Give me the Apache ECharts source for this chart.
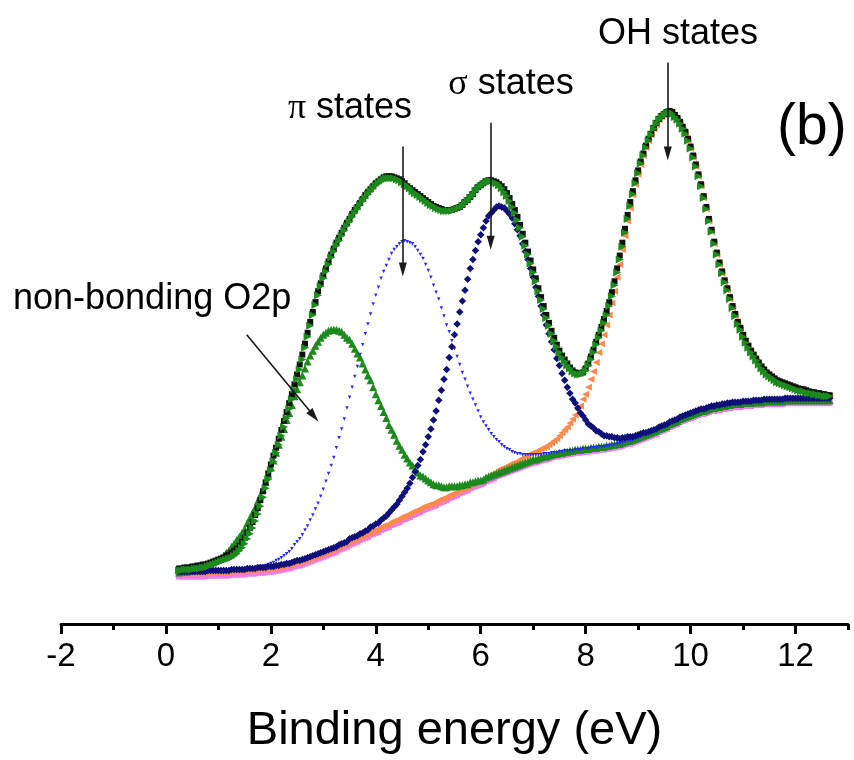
<!DOCTYPE html>
<html>
<head>
<meta charset="utf-8">
<script src="https://cdn.jsdelivr.net/npm/echarts@6/dist/echarts.min.js"></script>
<style>
  html, body { margin: 0; padding: 0; background: #ffffff; }
  #chart { width: 854px; height: 760px; }
</style>
</head>
<body>
<div id="chart"></div>
<script>
// Valence-band spectrum, sampled every 0.05 eV from 0.25 eV to 12.65 eV (249 points).
// Each row below holds 1 eV of data (20 samples).
const E_START = 0.25;
const E_STEP = 0.05;

// Measured spectrum (counts, arbitrary units)
const measured = [
  56,56,57,57,57,58,58,59,59,60,60,61,62,63,64,65,66,67,69,70,
  72,74,76,79,83,87,92,97,103,110,117,125,134,143,152,161,170,178,187,196,
  205,214,223,232,242,252,262,272,283,294,305,315,325,336,344,352,359,366,373,379,
  385,390,395,400,405,409,414,418,421,425,429,433,436,439,442,445,447,449,451,452,
  452,452,451,450,449,447,445,442,440,438,436,434,432,430,428,426,424,422,421,420,
  419,418,418,418,418,419,420,421,423,426,428,431,434,438,441,443,445,447,448,448,
  447,446,444,442,439,435,430,424,418,411,403,394,385,376,367,358,349,339,330,321,
  312,304,296,289,282,276,271,267,263,259,256,254,253,253,254,258,263,270,277,285,
  292,300,308,316,325,335,346,359,372,385,399,413,426,437,448,458,467,475,483,490,
  495,501,506,510,513,515,517,518,517,514,511,507,502,497,490,482,473,464,454,444,
  432,421,409,398,386,375,365,356,347,339,330,321,313,305,299,292,286,281,276,272,
  268,264,260,257,254,252,250,248,246,245,244,243,242,241,240,239,238,237,237,236,
  235,234,234,233,233,232,232,231,231
];

// Fitted envelope
const envelope = [
  54,54,55,55,55,55,56,56,56,57,57,58,59,60,61,62,63,64,65,66,
  67,69,71,74,77,81,86,91,97,104,111,119,128,137,146,155,164,173,181,190,
  199,208,217,227,237,247,257,267,279,290,301,312,322,332,341,349,356,363,370,376,
  382,387,392,397,402,406,411,415,419,423,427,430,434,437,440,443,445,447,449,450,
  450,450,450,449,448,446,444,442,440,437,435,433,431,429,427,425,423,422,420,419,
  418,417,417,417,417,418,419,420,422,425,427,430,433,437,440,442,444,446,447,447,
  446,445,443,440,436,432,427,421,415,408,400,391,382,373,364,355,346,336,327,318,
  309,301,293,286,280,274,269,265,261,258,255,253,252,252,253,256,261,267,274,282,
  289,296,304,312,321,331,342,355,368,381,395,409,422,434,445,455,465,473,481,488,
  494,500,505,509,512,514,516,517,515,512,509,505,500,495,488,480,471,462,452,442,
  430,419,407,396,384,373,363,354,345,337,328,319,311,303,297,290,284,279,274,270,
  266,262,258,255,252,250,248,246,244,243,242,241,240,239,238,237,236,235,235,234,
  233,233,232,232,231,231,230,230,230
];

// Component: non-bonding O2p (on background)
const nonBondingO2p = [
  52,53,53,53,54,54,55,55,56,57,58,60,61,62,64,65,67,69,72,74,
  78,81,85,88,92,96,102,107,112,117,124,130,136,143,151,158,165,173,181,189,
  197,206,213,221,230,237,244,251,258,265,271,276,281,285,289,292,294,296,297,297,
  297,296,295,292,289,287,283,278,273,269,263,257,251,246,239,232,226,220,214,208,
  201,196,191,185,180,176,171,167,163,160,156,153,150,149,147,145,143,141,140,140,
  139,138,138,139,139,139,139,140,140,141,141,143,143,144,145,145,146,148,149,150,
  151,152,153,154,155,156,157,158,159,160,161,162,163,164,165,166,166,167,168,169,
  169,170,171,172,172,173,173,174,174,175,175,176,176,176,177,177,177,178,178,178,
  179,179,179,180,180,181,181,182,182,183,184,185,185,186,187,188,189,190,191,192,
  193,194,195,197,198,199,200,202,203,204,205,207,208,209,210,211,212,213,214,215,
  215,216,217,218,218,219,219,220,220,221,221,222,222,222,222,223,223,223,223,224,
  224,224,224,225,225,225,225,225,225,225,225,226,226,226,226,226,226,226,226,226,
  226,226,226,226,226,226,226,226,226
];

// Component: pi states (on background)
const piStates = [
  51,51,51,51,51,51,51,51,51,51,51,52,52,52,52,52,52,52,52,52,
  53,53,53,53,54,54,55,55,56,56,57,58,58,59,60,61,62,64,65,67,
  69,71,73,76,80,83,86,90,95,99,105,110,116,122,129,136,144,152,160,168,
  178,188,197,207,218,229,239,250,260,272,282,293,303,313,323,332,340,349,356,362,
  368,374,378,381,384,386,387,386,385,384,381,377,373,369,363,357,350,342,335,328,
  319,311,302,295,286,278,270,262,254,247,240,233,227,221,215,209,204,200,196,192,
  189,186,184,181,179,177,176,174,173,172,172,171,171,171,171,171,171,171,171,172,
  172,172,173,173,173,174,174,175,175,175,175,176,176,176,177,177,177,178,178,178,
  179,179,179,180,180,181,181,182,182,183,184,185,185,186,187,188,189,190,191,192,
  193,194,195,197,198,199,200,202,203,204,205,207,208,209,210,211,212,213,214,215,
  215,216,217,218,218,219,219,220,220,221,221,222,222,222,222,223,223,223,223,224,
  224,224,224,225,225,225,225,225,225,225,225,226,226,226,226,226,226,226,226,226,
  226,226,226,226,226,226,226,226,226
];

// Component: sigma states (on background)
const sigmaStates = [
  53,53,53,53,53,53,53,53,53,53,53,54,54,54,54,54,54,54,54,54,
  55,55,55,55,55,55,56,56,56,56,57,57,57,57,58,58,58,59,59,60,
  60,61,61,62,63,64,64,65,66,67,68,69,70,71,72,73,74,75,76,77,
  78,80,81,82,83,86,87,88,89,91,92,94,95,98,99,101,102,105,107,109,
  112,115,118,121,125,129,133,137,142,148,154,160,166,174,181,189,197,206,215,226,
  236,247,257,269,280,292,303,315,326,337,348,359,368,377,386,393,400,407,412,415,
  418,421,422,421,420,417,414,410,404,398,392,384,376,368,359,350,340,331,321,312,
  302,293,285,277,268,261,253,246,239,233,227,223,218,213,210,206,202,200,198,195,
  194,192,190,190,189,189,188,188,187,188,188,189,189,189,190,191,192,193,193,194,
  195,196,197,199,200,201,202,204,205,206,207,209,210,211,212,213,214,215,216,217,
  217,218,219,220,220,221,221,222,222,223,223,224,224,224,224,225,225,225,225,226,
  226,226,226,227,227,227,227,227,227,227,227,228,228,228,228,228,228,228,228,228,
  228,228,228,228,228,228,228,228,228
];

// Component: OH states (on background)
const ohStates = [
  51,51,51,51,51,51,51,51,51,51,51,52,52,52,52,52,52,52,52,52,
  53,53,53,53,53,53,54,54,54,54,55,55,55,55,56,56,56,57,57,58,
  58,59,59,60,61,62,62,63,64,65,66,67,68,69,70,71,72,73,74,75,
  76,78,79,80,81,83,84,85,86,88,89,90,91,93,94,95,96,98,99,100,
  101,103,104,105,106,108,109,110,111,113,114,115,116,118,119,120,121,122,123,125,
  126,127,128,130,131,132,133,135,136,137,138,140,141,142,143,145,146,148,149,151,
  152,154,156,157,158,159,161,162,163,164,166,167,169,170,172,173,174,175,177,178,
  179,181,183,185,187,190,193,196,199,203,207,211,216,220,227,232,239,247,255,264,
  274,283,292,302,312,324,336,350,363,378,392,407,420,433,444,454,464,473,481,488,
  494,500,504,509,512,514,516,517,515,512,509,505,500,495,488,480,471,462,452,442,
  430,419,407,396,384,373,363,354,345,337,328,319,311,303,297,291,285,280,275,271,
  266,262,259,256,253,251,249,247,245,243,242,241,240,239,238,237,236,236,235,234,
  234,233,233,232,232,231,231,230,230
];

// Shirley-type background
const background = [
  48,48,48,48,48,48,48,48,48,48,48,49,49,49,49,49,49,49,49,49,
  50,50,50,50,50,50,51,51,51,51,52,52,52,52,53,53,53,54,54,55,
  55,56,56,57,58,59,59,60,61,62,63,64,65,66,67,68,69,70,71,72,
  73,75,76,77,78,80,81,82,83,85,86,87,88,90,91,92,93,95,96,97,
  98,100,101,102,103,105,106,107,108,110,111,112,113,115,116,117,118,119,120,122,
  123,124,125,127,128,129,130,132,133,134,135,137,138,139,140,141,142,144,145,146,
  147,149,150,151,152,153,154,155,156,157,158,159,160,161,162,163,163,164,165,166,
  166,167,168,169,169,170,170,171,171,172,172,173,173,173,174,174,174,175,175,175,
  176,176,176,177,177,178,178,179,179,180,181,182,182,183,184,185,186,187,188,189,
  190,191,192,194,195,196,197,199,200,201,202,204,205,206,207,208,209,210,211,212,
  212,213,214,215,215,216,216,217,217,218,218,219,219,219,219,220,220,220,220,221,
  221,221,221,222,222,222,222,222,222,222,222,223,223,223,223,223,223,223,223,223,
  223,223,223,223,223,223,223,223,223
];

const MAJOR_TICKS = [-2, 0, 2, 4, 6, 8, 10, 12];
const MINOR_TICKS = [-1, 1, 3, 5, 7, 9, 11, 13];

// Annotation arrows: [fromEnergy, fromIntensity, toEnergy, toIntensity]
const arrows = [
  [1.54, 292, 2.82, 210],   // non-bonding O2p
  [4.515, 482, 4.515, 358], // pi states
  [6.19, 506, 6.19, 385],   // sigma states
  [9.565, 567, 9.565, 475]  // OH states
];

const energies = measured.map((_, i) => Math.round((E_START + i * E_STEP) * 100) / 100);
const toPoints = (arr) => arr.map((v, i) => [energies[i], v]);

const SANS = "'Liberation Sans', Arial, Helvetica, sans-serif";
const SERIF = "'Liberation Serif', 'DejaVu Serif', serif";

function markerSeries(name, values, symbol, size, color, rotate) {
  return {
    name: name,
    type: 'scatter',
    data: toPoints(values),
    symbol: symbol,
    symbolSize: size,
    symbolRotate: rotate || 0,
    itemStyle: { color: color, opacity: 1 },
    silent: true,
    animation: false
  };
}

const chart = echarts.init(document.getElementById('chart'), null, { renderer: 'canvas' });

const series = [
  markerSeries('Background', background, 'rect', 6, '#ee7aee'),
  markerSeries('OH states', ohStates, 'triangle', 7, '#ff8a4c', 90),
  markerSeries('Non-bonding O2p', nonBondingO2p, 'triangle', 8, '#1c8a1c'),
  markerSeries('Pi states', piStates, 'triangle', 3.5, '#2a2aff', 180),
  markerSeries('Sigma states', sigmaStates, 'diamond', 7.5, '#10107a'),
  markerSeries('Measured', measured, 'rect', 6, '#111111'),
  markerSeries('Envelope', envelope, 'triangle', 8, '#1c8a1c', -90)
];

series[series.length - 1].markLine = {
  silent: true,
  animation: false,
  symbol: ['none', 'triangle'],
  symbolSize: 12,
  label: { show: false },
  lineStyle: { color: '#1a1a1a', width: 1.6, type: 'solid' },
  itemStyle: { color: '#1a1a1a' },
  emphasis: { disabled: true },
  data: arrows.map(a => [
    { coord: [a[0], a[1]], symbol: 'none', symbolSize: 0 },
    { coord: [a[2], a[3]], symbol: 'triangle', symbolSize: [8, 14] }
  ])
};

const option = {
  backgroundColor: '#ffffff',
  animation: false,
  grid: { left: 61, right: 6, top: 0, bottom: 130, containLabel: false },
  xAxis: [
    {
      type: 'value',
      min: -2,
      max: 13,
      position: 'bottom',
      name: 'Binding energy (eV)',
      nameLocation: 'middle',
      nameGap: 84,
      nameTextStyle: { fontSize: 47, color: '#000', fontFamily: SANS },
      axisLine: { show: true, lineStyle: { color: '#000', width: 3, cap: 'round' } },
      axisTick: { show: true, customValues: MAJOR_TICKS, length: 10, inside: false,
                  lineStyle: { color: '#000', width: 3 } },
      axisLabel: { show: true, customValues: MAJOR_TICKS, fontSize: 33, color: '#000',
                   fontFamily: SANS, margin: 16 },
      splitLine: { show: false }
    },
    {
      type: 'value',
      min: -2,
      max: 13,
      position: 'bottom',
      axisLine: { show: false },
      axisTick: { show: true, customValues: MINOR_TICKS, length: 6, inside: false,
                  lineStyle: { color: '#000', width: 3 } },
      axisLabel: { show: false },
      splitLine: { show: false }
    }
  ],
  yAxis: { type: 'value', min: 0, max: 630, show: false },
  series: series,
  graphic: [
    { type: 'text', x: 678, y: 34.5, silent: true,
      style: { text: 'OH states', font: '36px ' + SANS, fill: '#000', align: 'center', verticalAlign: 'middle' } },
    { type: 'text', x: 511, y: 84.5, silent: true,
      style: { text: '{g|σ} states', font: '36px ' + SANS, fill: '#000', align: 'center', verticalAlign: 'middle',
               rich: { g: { fontFamily: SERIF, fontSize: 36 } } } },
    { type: 'text', x: 350, y: 108.5, silent: true,
      style: { text: '{g|π} states', font: '36px ' + SANS, fill: '#000', align: 'center', verticalAlign: 'middle',
               rich: { g: { fontFamily: SERIF, fontSize: 36 } } } },
    { type: 'text', x: 13, y: 299.5, silent: true,
      style: { text: 'non-bonding O2p', font: '36px ' + SANS, fill: '#000', align: 'left', verticalAlign: 'middle' } },
    { type: 'text', x: 777, y: 128, silent: true,
      style: { text: '(b)', font: '57px ' + SANS, fill: '#000', align: 'left', verticalAlign: 'middle' } }
  ]
};

chart.setOption(option);
</script>
</body>
</html>
